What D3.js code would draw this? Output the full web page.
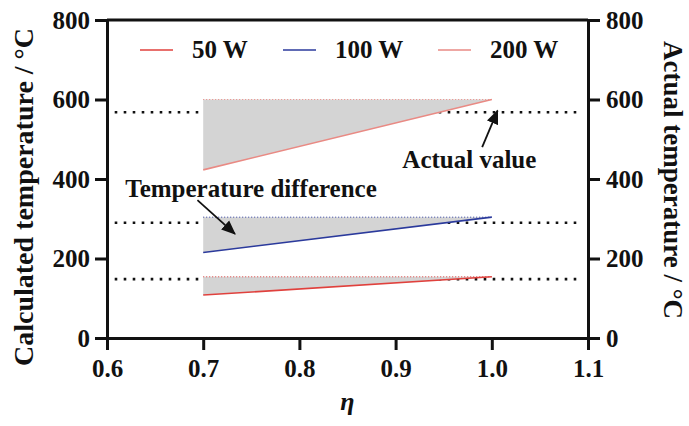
<!DOCTYPE html>
<html>
<head>
<meta charset="utf-8">
<script src="https://cdn.jsdelivr.net/npm/d3@7"></script>
<style>
  body { margin: 0; background: #fff; }
  svg text { font-family: "Times New Roman", "Liberation Serif", serif; font-weight: bold; fill: #111; }
</style>
</head>
<body>
<div id="chart"></div>
<script>
(function () {

  // data
  const seriesNames = ['50 W', '100 W', '200 W']
  const seriesColors = ['#e0413d', '#2b3a9c', '#e98a84']
  const etaRange = [0.7, 1.0]
  const calc50 = [108, 154]
  const calc100 = [215, 304]
  const calc200 = [423, 600]
  const actualValues = [148, 290, 568]
  const xTicks = [0.6, 0.7, 0.8, 0.9, 1.0, 1.1]
  const yTicks = [0, 200, 400, 600, 800]

  const calcSeries = [calc50, calc100, calc200]

  const margin = { top: 20, right: 101, bottom: 88, left: 107 }
  const width = 689 - margin.left - margin.right
  const height = 426 - margin.top - margin.bottom

  const root = d3.select("#chart").append("svg")
      .attr("width", 689)
      .attr("height", 426)

  const svg = root.append("g")
      .attr("transform", "translate(" + margin.left + "," + margin.top + ")")

  const x = d3.scaleLinear().domain([0.6, 1.1]).range([0, width])
  const y = d3.scaleLinear().domain([0, 800]).range([height, 0])

  // black dotted "actual value" lines, drawn first so the grey fills cover them
  svg.selectAll('.actual')
    .data(actualValues)
    .join('line')
    .attr('class', 'actual')
    .attr('x1', x(0.608))
    .attr('x2', x(1.092))
    .attr('y1', d => y(d))
    .attr('y2', d => y(d))
    .attr('stroke', '#111')
    .attr('stroke-width', 2.6)
    .attr('stroke-dasharray', '2.6,6.4')

  // grey band between each calculated line and its value at eta = 1
  calcSeries.forEach((vals, i) => {
    const pts = etaRange.map((e, j) => ({ eta: e, t: vals[j] }))
    const top = vals[vals.length - 1]

    const area = d3.area()
      .x(d => x(d.eta))
      .y0(d => y(d.t))
      .y1(y(top))

    svg.append('path')
      .datum(pts)
      .attr('d', area)
      .attr('fill', '#d4d4d4')

    svg.append('line')
      .attr('x1', x(etaRange[0]))
      .attr('x2', x(etaRange[1]))
      .attr('y1', y(top))
      .attr('y2', y(top))
      .attr('stroke', seriesColors[i])
      .attr('stroke-width', 1)
      .attr('stroke-dasharray', '1,2')

    svg.append('path')
      .datum(pts)
      .attr('d', d3.line().x(d => x(d.eta)).y(d => y(d.t)))
      .attr('fill', 'none')
      .attr('stroke', seriesColors[i])
      .attr('stroke-width', 1.6)
  })

  // frame: top line
  svg.append('line')
    .attr('x1', 0).attr('x2', width)
    .attr('y1', 0).attr('y2', 0)
    .attr('stroke', '#111').attr('stroke-width', 3)

  const fontSize = 25
  const serif = '"Times New Roman", "Liberation Serif", serif'

  function styleAxis(g) {
    g.attr('font-family', serif)
    g.select('.domain').attr('stroke', '#111').attr('stroke-width', 3)
    g.selectAll('.tick line').attr('stroke', '#111').attr('stroke-width', 3)
    g.selectAll('.tick text')
      .attr('font-size', fontSize)
      .attr('fill', '#111')
  }

  svg.append("g")
    .attr("transform", "translate(0," + height + ")")
    .call(d3.axisBottom(x).tickValues(xTicks).tickFormat(d3.format('.1f')).tickSize(12).tickSizeOuter(0).tickPadding(9))
    .call(styleAxis)

  svg.append("g")
    .call(d3.axisLeft(y).tickValues(yTicks).tickSize(12).tickSizeOuter(0).tickPadding(5))
    .call(styleAxis)

  svg.append("g")
    .attr("transform", "translate(" + width + ",0)")
    .call(d3.axisRight(y).tickValues(yTicks).tickSize(12).tickSizeOuter(0).tickPadding(6))
    .call(styleAxis)

  // axis titles
  root.append('text')
    .attr('transform', 'translate(33,197) rotate(-90)')
    .attr('text-anchor', 'middle')
    .attr('font-size', 28)
    .text('Calculated temperature / °C')

  root.append('text')
    .attr('transform', 'translate(664,180) rotate(90)')
    .attr('text-anchor', 'middle')
    .attr('font-size', 27)
    .text('Actual temperature / °C')

  root.append('text')
    .attr('x', margin.left + x(0.85))
    .attr('y', 410)
    .attr('text-anchor', 'middle')
    .attr('font-size', 26)
    .attr('font-style', 'italic')
    .text('η')

  // legend
  const legendX = [140, 283, 438]
  const legend = root.append('g')
  legend.selectAll('line')
    .data(seriesNames)
    .join('line')
    .attr('x1', (d, i) => legendX[i])
    .attr('x2', (d, i) => legendX[i] + 33)
    .attr('y1', 50)
    .attr('y2', 50)
    .attr('stroke', (d, i) => seriesColors[i])
    .attr('stroke-width', 1.6)
  legend.selectAll('text')
    .data(seriesNames)
    .join('text')
    .attr('x', (d, i) => legendX[i] + 52)
    .attr('y', 58)
    .attr('font-size', fontSize)
    .text(d => d)

  // annotations
  const defs = root.append('defs')
  defs.append('marker')
    .attr('id', 'arrow')
    .attr('viewBox', '0 0 12 10')
    .attr('refX', 11)
    .attr('refY', 5)
    .attr('markerWidth', 8)
    .attr('markerHeight', 7)
    .attr('markerUnits', 'strokeWidth')
    .attr('orient', 'auto')
    .append('path')
    .attr('d', 'M0,0 L12,5 L0,10 Z')
    .attr('fill', '#111')

  svg.append('text')
    .attr('x', x(0.619))
    .attr('y', y(355))
    .attr('font-size', fontSize)
    .text('Temperature difference')

  svg.append('line')
    .attr('x1', x(0.694)).attr('y1', y(347))
    .attr('x2', x(0.733)).attr('y2', y(262))
    .attr('stroke', '#111').attr('stroke-width', 1.8)
    .attr('marker-end', 'url(#arrow)')

  svg.append('text')
    .attr('x', x(0.907))
    .attr('y', y(428))
    .attr('font-size', fontSize)
    .text('Actual value')

  svg.append('line')
    .attr('x1', x(0.99)).attr('y1', y(480))
    .attr('x2', x(1.006)).attr('y2', y(572))
    .attr('stroke', '#111').attr('stroke-width', 1.8)
    .attr('marker-end', 'url(#arrow)')

})();
</script>
</body>
</html>
